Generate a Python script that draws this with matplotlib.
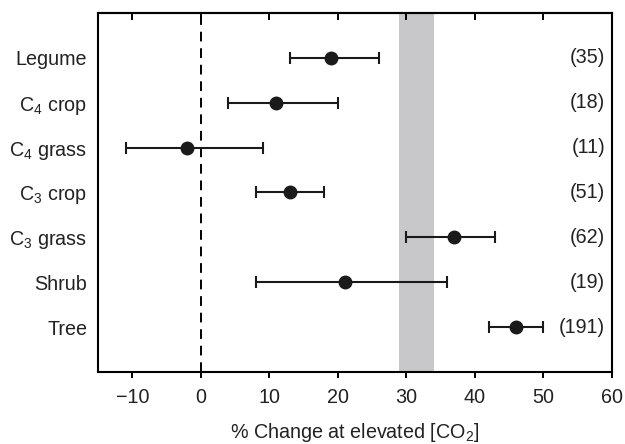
import numpy as np
from matplotlib import pyplot as plt

plt.rcParams['font.family'] = ['Liberation Sans', 'DejaVu Sans']
plt.rcParams['mathtext.fontset'] = 'custom'
plt.rcParams['mathtext.rm'] = 'Liberation Sans'

# data
kategori = ['Legume', 'C$_4$ crop', 'C$_4$ grass', 'C$_3$ crop', 'C$_3$ grass', 'Shrub', 'Tree']
rata = [19, 11, -2, 13, 37, 21, 46]
batas_bawah = [13, 4, -11, 8, 30, 8, 42]
batas_atas = [26, 20, 9, 18, 43, 36, 50]
jumlah = ['(35)', '(18)', '(11)', '(51)', '(62)', '(19)', '(191)']
pita = [28.9, 34.1]

rata = np.array(rata)
err = np.array([rata - np.array(batas_bawah), np.array(batas_atas) - rata])
posisi = np.arange(1, len(kategori) + 1)
fs = 14.2

fig = plt.figure(figsize=(6.25, 4.44), dpi=100)
ax = fig.add_axes([0.157, 0.162, 0.822, 0.809])

ax.axvspan(pita[0], pita[1], color='#c8c8ca', lw=0, zorder=0)
ax.axvline(0, color='black', lw=1.4, ls=(0, (5, 3.5)), zorder=1)
ax.errorbar(rata, posisi, xerr=err, fmt='o', color='#1a1a1a', ms=9,
            elinewidth=1.5, capsize=4.5, capthick=1.5, zorder=3)

for p, t in zip(posisi, jumlah):
    ax.text(59, p, t, ha='right', va='center', fontsize=fs, color='#222222')

ax.set_xlim(-15, 60)
ax.set_ylim(8, 0)
ax.set_yticks(posisi)
ax.set_yticklabels(kategori, fontsize=fs, color='#222222')
ax.tick_params(axis='y', length=0, pad=8)
ax.set_xticks(np.arange(-10, 61, 10))
ax.set_xticklabels(['\u221210'] + [str(v) for v in range(0, 61, 10)], fontsize=fs, color='#222222')
ax.tick_params(axis='x', direction='out', length=4.5, width=1.4, pad=7)
atas = ax.secondary_xaxis('top')
atas.set_xticks(np.arange(-10, 61, 10))
atas.tick_params(direction='in', length=5, width=1.4, labeltop=False)
for s in ax.spines.values():
    s.set_linewidth(1.5)
atas.spines['top'].set_linewidth(1.5)
ax.set_xlabel('% Change at elevated [CO$_2$]', fontsize=fs, labelpad=10, color='#222222')

fig.savefig('out.png', dpi=100)
